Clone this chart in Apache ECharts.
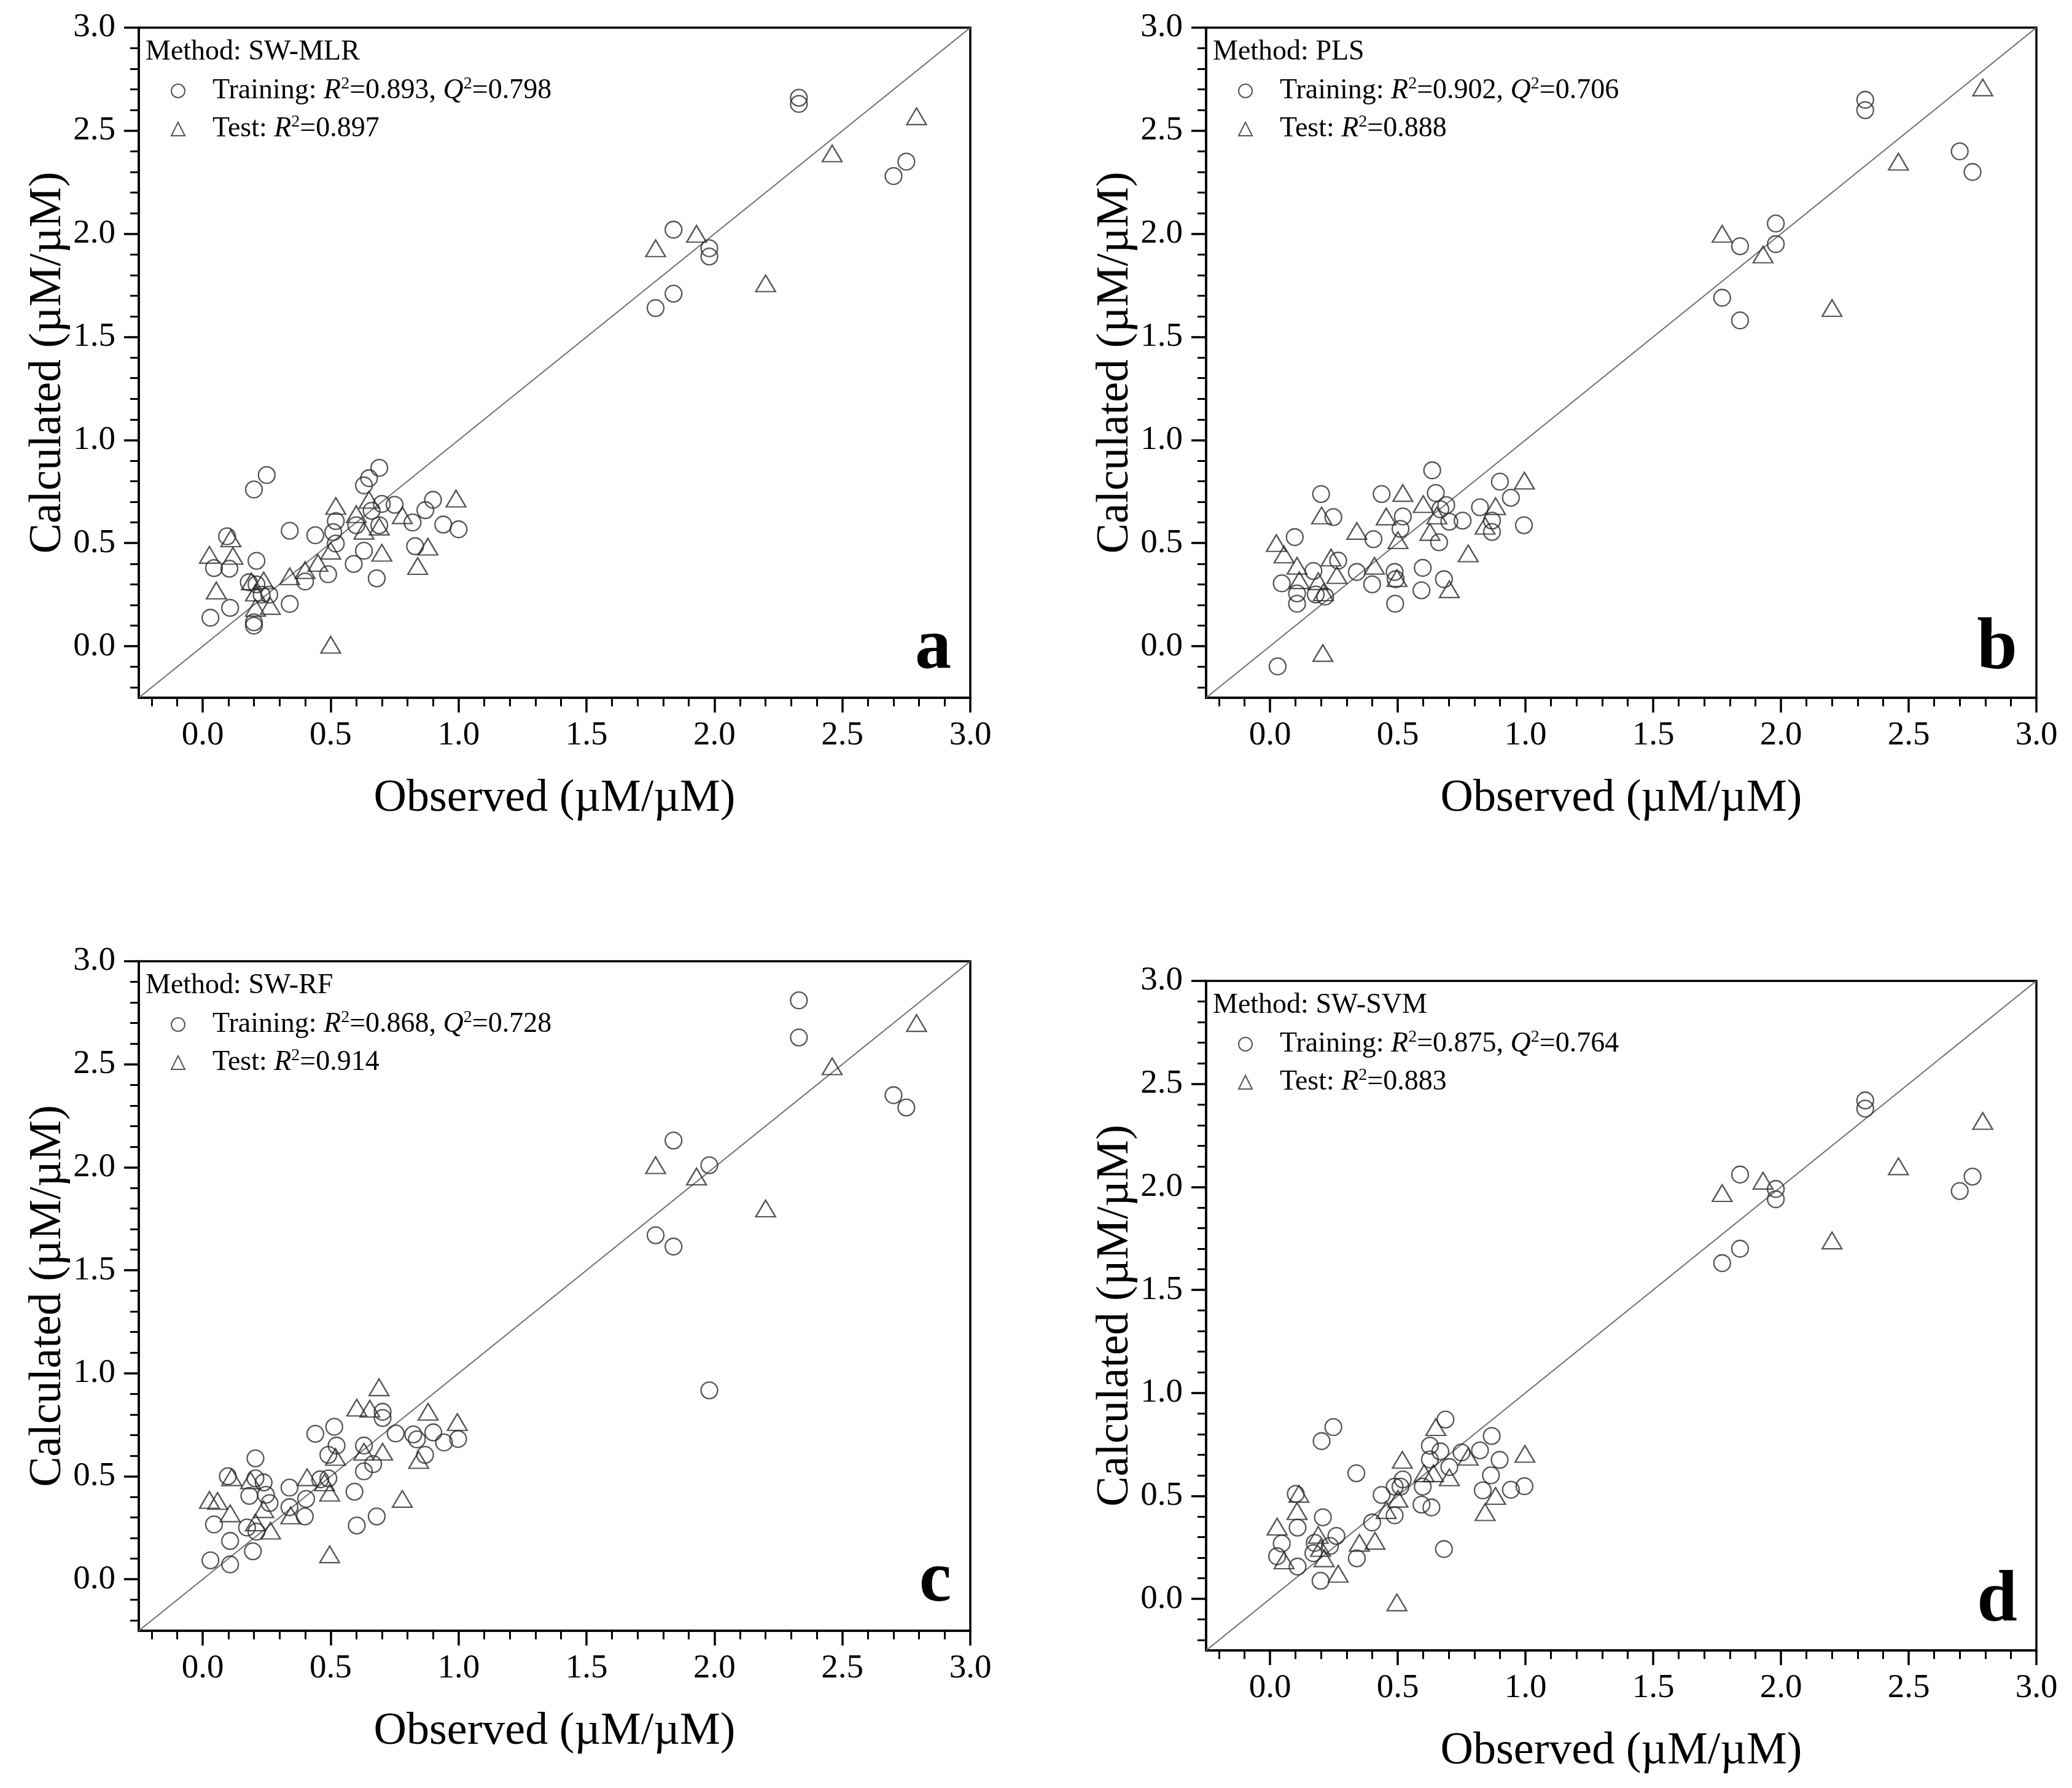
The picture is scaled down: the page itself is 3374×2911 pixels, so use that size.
<!DOCTYPE html>
<html>
<head>
<meta charset="utf-8">
<script src="https://cdn.jsdelivr.net/npm/echarts@6/dist/echarts.min.js"></script>
<style>
html,body{margin:0;padding:0;background:#ffffff;}
#chart{width:3374px;height:2911px;}
</style>
</head>
<body>
<div id="chart"></div>
<script>
// ---------- tick labels ----------
const majorTicks = [0, 0.5, 1.0, 1.5, 2.0, 2.5, 3.0];
const minorTicks = [-0.2, -0.1, 0.1, 0.2, 0.3, 0.4, 0.6, 0.7, 0.8, 0.9, 1.1, 1.2, 1.3, 1.4,
                    1.6, 1.7, 1.8, 1.9, 2.1, 2.2, 2.3, 2.4, 2.6, 2.7, 2.8, 2.9];
const axisRange = [-0.25, 3.0];
const diagonal = [-0.25, 3.0];

// ---------- panel texts ----------
const panelLetters = ['a', 'b', 'c', 'd'];
const methods = ['SW-MLR', 'PLS', 'SW-RF', 'SW-SVM'];
const trainR2 = ['0.893', '0.902', '0.868', '0.875'];
const trainQ2 = ['0.798', '0.706', '0.728', '0.764'];
const testR2 = ['0.897', '0.888', '0.914', '0.883'];

// ---------- panel a (SW-MLR) ----------
const trainObsA = [0.25,0.20,0.69,0.65,0.63,0.70,0.75,0.90,0.87,0.82,0.94,1.00,0.66,0.69,0.60,0.52,0.51,0.52,0.34,0.44,0.095,0.21,0.044,0.104,0.18,0.23,0.49,0.40,0.63,0.59,0.68,0.83,0.34,0.107,0.03,0.20,0.20,0.26,0.21,
                   1.77,1.84,1.84,1.98,1.98,2.33,2.33,2.70,2.75];
const trainCalcA = [0.83,0.76,0.865,0.815,0.78,0.69,0.686,0.71,0.66,0.60,0.59,0.567,0.657,0.587,0.587,0.607,0.553,0.498,0.56,0.538,0.533,0.414,0.379,0.376,0.31,0.25,0.349,0.314,0.463,0.399,0.329,0.485,0.205,0.186,0.138,0.116,0.10,0.25,0.30,
                    1.64,1.71,2.02,1.93,1.89,2.66,2.63,2.28,2.35];
const testObsA = [0.52,0.65,0.60,0.63,0.69,0.78,0.99,0.88,0.70,0.84,0.50,0.50,0.45,0.40,0.34,0.11,0.026,0.118,0.053,0.19,0.238,0.206,0.264,0.206,
                  1.77,1.93,2.20,2.46,2.79];
const testCalcA = [0.68,0.71,0.64,0.56,0.58,0.635,0.716,0.483,0.453,0.389,0.007,0.463,0.404,0.369,0.339,0.523,0.443,0.438,0.27,0.314,0.319,0.186,0.195,0.26,
                   1.93,2.00,1.76,2.39,2.57];

// ---------- panel b (PLS) ----------
const trainObsB = [0.635,0.20,0.437,0.649,0.90,0.943,0.69,0.822,0.248,0.52,0.511,0.702,0.754,0.869,0.869,0.994,0.405,0.097,0.662,0.667,0.267,0.17,0.046,0.106,0.106,0.179,0.216,0.34,0.40,0.488,0.492,0.598,0.593,0.681,0.49,0.03,
                   1.77,1.84,1.84,1.98,1.98,2.33,2.33,2.70,2.75];
const trainCalcB = [0.853,0.738,0.738,0.743,0.798,0.72,0.684,0.674,0.626,0.629,0.569,0.604,0.609,0.609,0.554,0.587,0.519,0.529,0.504,0.664,0.415,0.365,0.305,0.256,0.206,0.251,0.241,0.36,0.30,0.36,0.325,0.38,0.271,0.325,0.206,-0.098,
                    1.69,1.58,1.94,2.05,1.95,2.65,2.60,2.40,2.30];
const testObsB = [0.52,0.996,0.60,0.883,0.202,0.455,0.34,0.653,0.842,0.626,0.501,0.025,0.055,0.239,0.106,0.409,0.262,0.115,0.189,0.497,0.776,0.702,0.209,0.207,
                  1.77,1.93,2.20,2.46,2.79];
const testCalcB = [0.743,0.803,0.689,0.679,0.634,0.629,0.559,0.634,0.584,0.554,0.514,0.50,0.445,0.43,0.39,0.39,0.345,0.32,0.315,0.33,0.45,0.276,0.261,-0.033,
                   2.00,1.90,1.64,2.35,2.71];

// ---------- panel c (SW-RF) ----------
const trainObsC = [0.206,0.44,0.514,0.523,0.491,0.63,0.703,0.703,0.754,0.823,0.901,0.837,0.943,0.998,0.869,0.666,0.63,0.098,0.206,0.238,0.247,0.182,0.261,0.339,0.404,0.491,0.459,0.593,0.339,0.399,0.044,0.173,0.21,0.107,0.196,0.03,0.107,0.602,0.68,
                   1.77,1.84,1.84,1.98,1.98,2.33,2.33,2.70,2.75];
const trainCalcC = [0.587,0.706,0.74,0.649,0.604,0.649,0.813,0.783,0.708,0.703,0.713,0.679,0.664,0.681,0.604,0.559,0.524,0.50,0.49,0.47,0.41,0.405,0.37,0.445,0.39,0.49,0.485,0.425,0.35,0.305,0.266,0.251,0.231,0.186,0.136,0.092,0.072,0.261,0.305,
                    1.67,1.615,2.13,2.01,0.917,2.81,2.63,2.35,2.29];
const testObsC = [0.689,0.602,0.653,0.881,0.995,0.63,0.703,0.519,0.844,0.408,0.476,0.113,0.187,0.496,0.026,0.058,0.107,0.238,0.344,0.206,0.265,0.78,0.496,
                  1.77,1.93,2.20,2.46,2.79];
const testCalcC = [0.932,0.833,0.828,0.813,0.763,0.619,0.619,0.594,0.579,0.495,0.47,0.495,0.48,0.42,0.385,0.38,0.32,0.34,0.31,0.276,0.236,0.39,0.121,
                   2.01,1.955,1.80,2.49,2.70];

// ---------- panel d (SW-SVM) ----------
const trainObsD = [0.248,0.202,0.687,0.868,0.626,0.667,0.75,0.822,0.626,0.899,0.702,0.865,0.338,0.52,0.511,0.598,0.833,0.943,0.996,0.437,0.488,0.593,0.632,0.488,0.40,0.101,0.207,0.108,0.26,0.046,0.175,0.028,0.17,0.108,0.198,0.34,0.681,0.235,
                   1.77,1.84,1.84,1.98,1.98,2.33,2.33,2.70,2.75];
const trainCalcD = [0.834,0.766,0.871,0.791,0.744,0.716,0.711,0.721,0.677,0.675,0.64,0.60,0.61,0.58,0.545,0.545,0.527,0.53,0.547,0.505,0.545,0.458,0.444,0.406,0.371,0.51,0.396,0.346,0.306,0.269,0.272,0.207,0.222,0.157,0.088,0.197,0.242,0.257,
                    1.63,1.70,2.06,1.99,1.94,2.42,2.38,1.98,2.05];
const testObsD = [0.649,0.518,0.998,0.776,0.603,0.702,0.64,0.113,0.883,0.501,0.106,0.455,0.842,0.028,0.189,0.411,0.35,0.055,0.212,0.267,0.198,0.497,
                  1.77,1.93,2.20,2.46,2.79];
const testCalcD = [0.834,0.675,0.704,0.69,0.61,0.59,0.61,0.51,0.50,0.486,0.426,0.431,0.421,0.351,0.311,0.282,0.272,0.187,0.197,0.122,0.247,-0.017,
                   1.97,2.03,1.74,2.10,2.32];

const trainObs = [trainObsA, trainObsB, trainObsC, trainObsD];
const trainCalc = [trainCalcA, trainCalcB, trainCalcC, trainCalcD];
const testObs = [testObsA, testObsB, testObsC, testObsD];
const testCalc = [testCalcA, testCalcB, testCalcC, testCalcD];

// ---------- layout (pixels) ----------
const grids = [
  {left: 226,  top: 45,   width: 1354, height: 1091},
  {left: 1964, top: 45,   width: 1352, height: 1091},
  {left: 226,  top: 1565, width: 1354, height: 1090},
  {left: 1964, top: 1597, width: 1352, height: 1090}
];

const FONT = 'Liberation Serif';
const INK = '#000000';
const MARK = '#2b2b2b';

function zip(xs, ys) { return xs.map((x, i) => [x, ys[i]]); }

const option = {
  animation: false,
  backgroundColor: '#ffffff',
  grid: [], xAxis: [], yAxis: [], series: [], legend: [], graphic: []
};

grids.forEach((g, i) => {
  option.grid.push({left: g.left, top: g.top, width: g.width, height: g.height,
    show: true, borderColor: INK, borderWidth: 3.5, backgroundColor: 'transparent', containLabel: false});

  const labelFmt = v => Number(v).toFixed(1);
  option.xAxis.push({
    type: 'value', gridIndex: i, min: axisRange[0], max: axisRange[1], position: 'bottom',
    axisLine: {show: true, onZero: false, lineStyle: {color: INK, width: 3.5}},
    axisTick: {show: true, inside: false, length: 24, customValues: majorTicks, lineStyle: {color: INK, width: 3.5}},
    axisLabel: {show: true, customValues: majorTicks, formatter: labelFmt, margin: 34,
      fontFamily: FONT, fontSize: 55, color: INK},
    splitLine: {show: false},
    name: 'Observed (µM/µM)', nameLocation: 'middle', nameGap: 128,
    nameTextStyle: {fontFamily: FONT, fontSize: 74, color: INK}
  });
  option.xAxis.push({
    type: 'value', gridIndex: i, min: axisRange[0], max: axisRange[1], position: 'bottom',
    axisLine: {show: false, onZero: false},
    axisTick: {show: true, inside: false, length: 14, customValues: minorTicks, lineStyle: {color: INK, width: 3}},
    axisLabel: {show: false}, splitLine: {show: false}
  });
  option.yAxis.push({
    type: 'value', gridIndex: i, min: axisRange[0], max: axisRange[1], position: 'left',
    axisLine: {show: true, onZero: false, lineStyle: {color: INK, width: 3.5}},
    axisTick: {show: true, inside: false, length: 24, customValues: majorTicks, lineStyle: {color: INK, width: 3.5}},
    axisLabel: {show: true, customValues: majorTicks, formatter: labelFmt, margin: 38,
      fontFamily: FONT, fontSize: 55, color: INK},
    splitLine: {show: false},
    name: 'Calculated (µM/µM)', nameLocation: 'middle', nameGap: 88, nameRotate: 90,
    nameTextStyle: {fontFamily: FONT, fontSize: 74, color: INK}
  });
  option.yAxis.push({
    type: 'value', gridIndex: i, min: axisRange[0], max: axisRange[1], position: 'left',
    axisLine: {show: false, onZero: false},
    axisTick: {show: true, inside: false, length: 14, customValues: minorTicks, lineStyle: {color: INK, width: 3}},
    axisLabel: {show: false}, splitLine: {show: false}
  });

  const trainName = panelLetters[i] + '-train';
  const testName = panelLetters[i] + '-test';

  option.series.push({
    type: 'line', xAxisIndex: 2 * i, yAxisIndex: 2 * i, z: 1,
    data: [[diagonal[0], diagonal[0]], [diagonal[1], diagonal[1]]],
    symbol: 'none', silent: true,
    lineStyle: {color: '#6e6e6e', width: 2}
  });
  option.series.push({
    type: 'scatter', name: trainName, xAxisIndex: 2 * i, yAxisIndex: 2 * i, z: 3,
    data: zip(trainObs[i], trainCalc[i]),
    symbol: 'circle', symbolSize: 27,
    itemStyle: {color: 'rgba(0,0,0,0)', borderColor: MARK, borderWidth: 2.3},
    emphasis: {disabled: true}, silent: true
  });
  option.series.push({
    type: 'scatter', name: testName, xAxisIndex: 2 * i, yAxisIndex: 2 * i, z: 3,
    data: zip(testObs[i], testCalc[i]),
    symbol: 'triangle', symbolSize: [32, 27],
    itemStyle: {color: 'rgba(0,0,0,0)', borderColor: MARK, borderWidth: 2.3},
    emphasis: {disabled: true}, silent: true
  });

  const rich = {
    n: {fontFamily: FONT, fontSize: 46, color: INK, lineHeight: 50},
    i: {fontFamily: FONT, fontSize: 46, color: INK, fontStyle: 'italic', lineHeight: 50},
    s: {fontFamily: FONT, fontSize: 28, color: INK, lineHeight: 30, verticalAlign: 'top'}
  };
  const legendBase = {
    orient: 'vertical', padding: 0, itemWidth: 22, itemHeight: 22, selectedMode: false,
    itemStyle: {color: 'rgba(0,0,0,0)', borderColor: MARK, borderWidth: 2},
    textStyle: {fontFamily: FONT, fontSize: 46, color: INK, padding: [0, 0, 0, 40], rich: rich}
  };
  option.legend.push(Object.assign({}, legendBase, {
    left: g.left + 52, top: g.top + 103 - 25,
    data: [{name: trainName, icon: 'circle'}],
    formatter: () => '{n|Training: }{i|R}{s|2}{n|=' + trainR2[i] + ', }{i|Q}{s|2}{n|=' + trainQ2[i] + '}'
  }));
  option.legend.push(Object.assign({}, legendBase, {
    left: g.left + 52, top: g.top + 165 - 25,
    data: [{name: testName, icon: 'triangle'}],
    formatter: () => '{n|Test: }{i|R}{s|2}{n|=' + testR2[i] + '}'
  }));

  option.graphic.push({
    type: 'text', x: g.left + 11, y: g.top + 40, silent: true,
    style: {text: 'Method: ' + methods[i], fontFamily: FONT, fontSize: 46, fill: INK,
      textAlign: 'left', textVerticalAlign: 'middle'}
  });
  option.graphic.push({
    type: 'text', x: g.left + g.width - 31, y: g.top + g.height - 79, silent: true,
    style: {text: panelLetters[i], fontFamily: FONT, fontSize: 118, fontWeight: 'bold', fill: INK,
      textAlign: 'right', textVerticalAlign: 'middle'}
  });
});

const chart = echarts.init(document.getElementById('chart'), null, {renderer: 'canvas'});
chart.setOption(option);
</script>
</body>
</html>
